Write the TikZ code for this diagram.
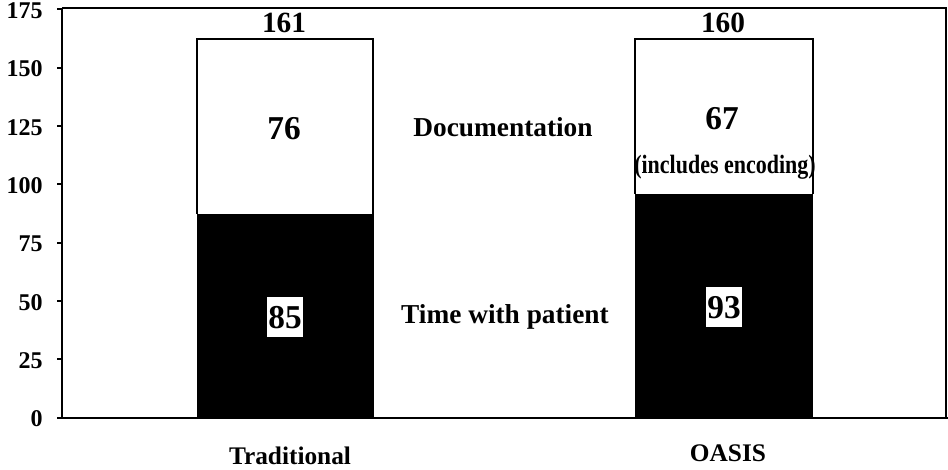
\documentclass[tikz,border=0pt]{standalone}
\usepackage{fontspec}
\setmainfont{Liberation Serif}
\begin{document}
\begin{tikzpicture}[x=0.75pt,y=-0.75pt,
  txt/.style={inner sep=0pt, anchor=base, text=black},
  ticklab/.style={inner sep=0pt, anchor=east, font=\bfseries\fontsize{18}{20}\selectfont},
  total/.style={txt, font=\bfseries\fontsize{22}{24}\selectfont},
  seg/.style={txt, font=\bfseries\fontsize{25}{28}\selectfont},
  midlab/.style={txt, font=\bfseries\fontsize{20.5}{24}\selectfont},
  catlab/.style={txt, font=\bfseries\fontsize{19}{22}\selectfont},
  notelab/.style={txt, font=\bfseries\fontsize{16.5}{19}\selectfont},
  boxlab/.style={anchor=base, fill=white, inner xsep=1pt, inner ysep=6.5pt, font=\bfseries\fontsize{25}{28}\selectfont},
  frameline/.style={line width=1.1pt},
  axisline/.style={line width=1.5pt},
  baredge/.style={line width=1.1pt}]
\useasboundingbox (0,0) rectangle (948,470);
\fill[white] (0,0) rectangle (948,470);

% bars
\fill[black] (197,214) rectangle (374,418);
\draw[baredge] (197,214) |- (373,39) -- (373,214);
\fill[black] (635,194) rectangle (813,418);
\draw[baredge] (635,194) |- (813,39) -- (813,194);

% frame and axes
\draw[frameline] (62,8) -- (946,8) -- (946,418);
\draw[axisline] (62,8) -- (62,418) -- (948,418);

% ticks
\foreach \v in {0,25,...,175} {
  \draw[axisline] (57,{417.5-\v*2.333}) -- (62,{417.5-\v*2.333});
  \node[ticklab] (t\v) at (43,{419-\v*2.333}) {\v};
}

% totals
\node[total] (tot1) at (284,33) {161};
\node[total] (tot2) at (723,33) {160};

% documentation segments
\node[seg] (doc1) at (284,140) {76};
\node[seg] (doc2) at (722,130) {67};
\node[notelab] (enc) at (725,174) {\scalebox{1}[1.2]{(includes encoding)}};

% patient segments
\node[boxlab] (pat1) at (285,328) {85};
\node[boxlab] (pat2) at (724,318) {93};

% middle labels
\node[midlab] (ldoc) at (503,137) {Documentation};
\node[midlab] (lpat) at (505,323) {Time with patient};

% categories
\node[catlab] (c1) at (290,464) {Traditional};
\node[catlab] (c2) at (728,461) {OASIS};
\end{tikzpicture}
\end{document}
